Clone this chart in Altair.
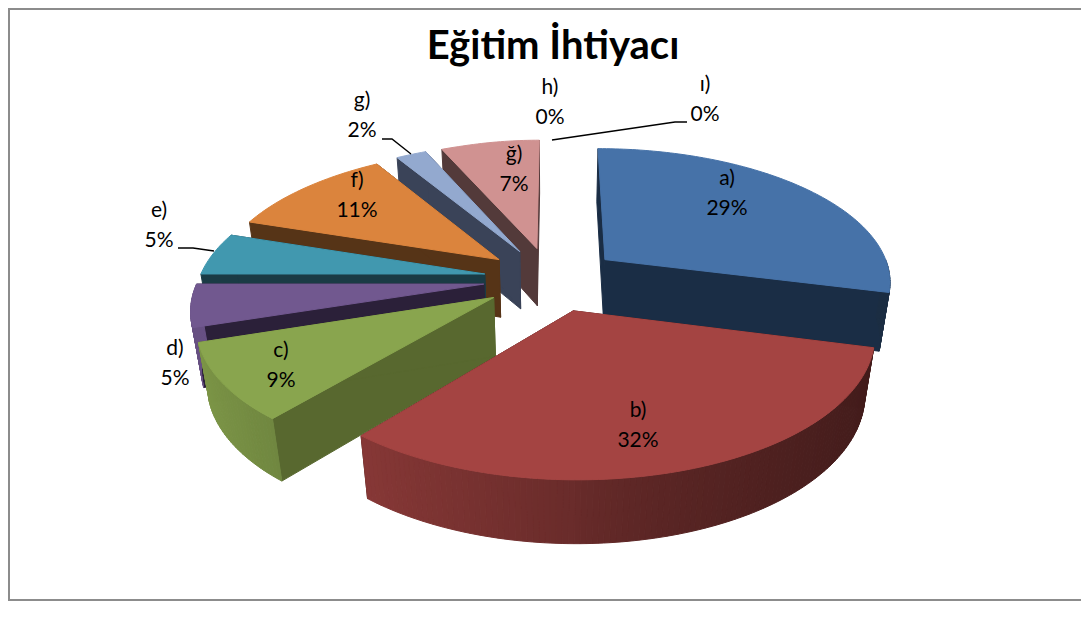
import math
import altair as alt

# ---- data ----
names = ["a)", "b)", "c)", "d)", "e)", "f)", "g)", "ğ)", "h)", "ı)"]
shares = [29, 32, 9, 5, 5, 11, 2, 7, 0, 0]
top_colors = ["#4672A8", "#A44442", "#89A54E", "#71588F", "#4198AF", "#DB843D", "#93A9CF", "#D09291", "#BBBBBB", "#BBBBBB"]
wall_colors = ["#1A2D45", "#431A18", "#58682F", "#2B2039", "#1A3B45", "#563417", "#3A4358", "#533A3A", "#555555", "#555555"]
title_text = "Eğitim İhtiyacı"

# ---- layout of the perspective pie and its annotations ----
CX, CY, KX, KY, H, P, R, EXPLODE = 551, 279, 287, 133, 60, 0.15, 0.03, 0.243
SKEW = 4.0
draw_order = [7, 6, 5, 4, 3, 2, 0, 1]
label_pos = [(727, 179), (638, 411), (281, 351), (175, 349), (159, 211),
             (357, 181), (362, 101), (514, 155), (550, 88), (705, 85)]
LINE_GAP = 30
leaders = [[(382, 139), (392, 139), (411, 154)],
           [(178, 248), (193, 248), (214, 251)],
           [(552, 140), (675, 122), (687, 122)]]
frame = [(1081, 9), (9, 9), (9, 600), (1081, 600)]
proj_opts = dict(type="identity", scale=1, translate=[-8, -8])


def proj(X, Y, D=0.0):
    s = 1 / (1 + P * Y + R * D)
    # the back-left of the pie leans slightly inwards in the picture
    lean = SKEW * max(0.0, Y + 0.9) * min(1.0, max(0.0, -X) / 0.4)
    return [CX + KX * X * s + lean, CY + (-KY * Y + H * D) * s]


def rim(th, ox, oy, D=0.0):
    a = math.radians(th)
    return proj(ox + math.sin(a), oy + math.cos(a), D)


def shade(hex_color, f):
    rgb = [int(hex_color[i:i + 2], 16) for i in (1, 3, 5)]
    return "#" + "".join(f"{min(255, round(c * f)):02x}" for c in rgb)


def poly(points, fill):
    return {"type": "Feature",
            "geometry": {"type": "Polygon", "coordinates": [points + [points[0]]]},
            "properties": {"fill": fill}}


def line(points, name):
    return {"type": "Feature",
            "geometry": {"type": "LineString", "coordinates": [list(p) for p in points]},
            "properties": {"name": name}}


starts = [sum(shares[:i]) * 3.6 for i in range(len(shares))]
features = []
for i in draw_order:
    t0, t1 = starts[i], starts[i] + shares[i] * 3.6
    mid = math.radians((t0 + t1) / 2)
    ox, oy = EXPLODE * math.sin(mid), EXPLODE * math.cos(mid)
    apex, apex_d = proj(ox, oy), proj(ox, oy, 1)
    top, wall = top_colors[i], wall_colors[i]
    # cut faces
    for th in (t0, t1):
        features.append(poly([apex, rim(th, ox, oy), rim(th, ox, oy, 1), apex_d], wall))
    # rim wall, in narrow strips so that the shading runs along it
    th = max(t0, 90.0)
    end = min(t1, 270.0)
    while th < end:
        nx = min(th + 1.0, end)
        sx = math.sin(math.radians((th + nx) / 2))
        f = 0.64 - 0.28 * sx if sx < 0 else 0.64 - 0.24 * sx ** 0.7
        features.append(poly([rim(th, ox, oy), rim(nx, ox, oy), rim(nx, ox, oy, 1), rim(th, ox, oy, 1)],
                             shade(top, f)))
        th = nx
    # top face
    n = max(2, int(t1 - t0))
    arc = [rim(t0 + (t1 - t0) * k / n, ox, oy) for k in range(n + 1)]
    features.append(poly([apex] + arc, top))


def geo(feats):
    return alt.InlineData(values={"type": "FeatureCollection", "features": feats},
                          format=alt.DataFormat(property="features", type="json"))


frame_layer = alt.Chart(geo([line(frame, "frame")])).mark_geoshape(
    filled=False, stroke="#8C8C8C", strokeWidth=2).project(**proj_opts)

pie_layer = alt.Chart(geo(features)).mark_geoshape(strokeWidth=1).encode(
    fill=alt.Fill("properties.fill:N", scale=None, legend=None),
    stroke=alt.Stroke("properties.fill:N", scale=None, legend=None),
).project(**proj_opts)

leader_layer = alt.Chart(geo([line(l, "leader") for l in leaders])).mark_geoshape(
    filled=False, stroke="#000000", strokeWidth=1.4).project(**proj_opts)

rows = []
for name, share, (x, y) in zip(names, shares, label_pos):
    rows.append({"t": name, "lon": x, "lat": y})
    rows.append({"t": f"{share}%", "lon": x, "lat": y + LINE_GAP})

label_layer = alt.Chart(alt.Data(values=rows)).mark_text(
    font="Lato", fontSize=21, color="#000000", align="center", baseline="middle"
).encode(longitude="lon:Q", latitude="lat:Q", text="t:N").project(**proj_opts)

title_layer = alt.Chart(alt.Data(values=[{"t": title_text, "lon": 553, "lat": 47}])).mark_text(
    font="Lato", fontSize=40, fontWeight="bold", color="#000000", align="center", baseline="middle"
).encode(longitude="lon:Q", latitude="lat:Q", text="t:N").project(**proj_opts)

chart = alt.layer(frame_layer, pie_layer, leader_layer, label_layer, title_layer).properties(
    width=1073, height=593, padding=0, autosize=alt.AutoSizeParams(type="none"),
    background="#FFFFFF"
).configure_view(stroke=None)

chart.save("out.html", embed_options={"renderer": "svg", "actions": False})
